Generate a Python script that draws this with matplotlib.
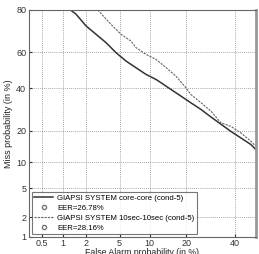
import math
import numpy as np
import matplotlib
matplotlib.use("Agg")
import matplotlib.pyplot as plt
from matplotlib.lines import Line2D

# Data (percent)
core_fa = [1.26, 1.50, 2.02, 2.69, 3.53, 4.57, 5.86, 7.40, 9.24, 11.4, 12.6, 15.3, 18.3,
           21.6, 25.4, 29.4, 38.1, 47.6, 50.0]
core_miss = [80.0, 78.3, 73.2, 69.2, 65.0, 59.7, 55.1, 51.4, 47.7, 44.9, 43.1, 39.4, 35.9,
             32.5, 29.2, 25.7, 19.7, 15.0, 13.4]
sec_fa = [2.82, 4.02, 4.57, 5.19, 6.59, 7.40, 9.24, 11.4, 13.9, 16.7, 19.9, 21.6, 25.4,
          29.4, 33.6, 38.1, 42.8, 47.6, 50.0]
sec_miss = [80.0, 73.9, 71.6, 69.2, 65.8, 62.4, 58.8, 56.0, 51.5, 46.8, 40.4, 36.8, 32.5,
            28.4, 23.2, 21.7, 19.1, 16.1, 14.4]
eer_core = 26.78
eer_sec = 28.16
xticks = [0.5, 1, 2, 5, 10, 20, 40]
yticks = [1, 2, 5, 10, 20, 40, 60, 80]


def _probit_scalar(p):
    p = min(max(p, 1e-9), 1 - 1e-9)
    lo, hi = -10.0, 10.0
    for _ in range(60):
        mid = 0.5 * (lo + hi)
        if 0.5 * (1 + math.erf(mid / math.sqrt(2))) < p:
            lo = mid
        else:
            hi = mid
    return 0.5 * (lo + hi)


def fwd(v):
    v = np.asarray(v, dtype=float)
    out = np.array([_probit_scalar(x / 100.0) for x in v.ravel()])
    return out.reshape(v.shape)


def inv(z):
    z = np.asarray(z, dtype=float)
    out = np.array([100 * 0.5 * (1 + math.erf(x / math.sqrt(2))) for x in z.ravel()])
    return out.reshape(z.shape)


plt.rcParams['font.family'] = ['Liberation Sans', 'DejaVu Sans']
fig = plt.figure(figsize=(2.59, 2.54), dpi=100)
ax = fig.add_axes([0.112, 0.067, 0.876, 0.894])
ax.set_xscale('function', functions=(fwd, inv))
ax.set_yscale('function', functions=(fwd, inv))

ax.plot(core_fa, core_miss, color='#333333', lw=1.1, ls='-')
ax.plot(sec_fa, sec_miss, color='#666666', lw=0.8, ls=(0, (2, 1)))

ax.set_xlim(0.31, 50)
ax.set_ylim(1, 80)
ax.set_xticks(xticks)
ax.set_xticklabels([str(t) for t in xticks])
ax.set_yticks(yticks)
ax.set_yticklabels([str(t) for t in yticks])
ax.minorticks_off()
ax.tick_params(labelsize=6.5, length=2, direction='in', colors='#333333', pad=2)
ax.tick_params(axis='x', pad=1.5)
ax.grid(True, color='#888888', ls=(0, (1, 1.5)), lw=0.6)
for s in ax.spines.values():
    s.set_color('#666666')
    s.set_linewidth(0.8)
ax.spines['right'].set_linewidth(2)
ax.spines['right'].set_color('#999999')

ax.set_xlabel('False Alarm probability (in %)', fontsize=6.3, labelpad=0, color='#222222')
ax.set_ylabel('Miss probability (in %)', fontsize=6.5, labelpad=2, color='#222222')

handles = [
    Line2D([], [], color='#333333', lw=1.1),
    Line2D([], [], ls='none', marker='o', mfc='white', mec='#777777', ms=3),
    Line2D([], [], color='#666666', lw=0.8, ls=(0, (2, 1))),
    Line2D([], [], ls='none', marker='o', mfc='white', mec='#777777', ms=3),
]
labels = ['GIAPSI SYSTEM core-core (cond-5)', 'EER=%.2f%%' % eer_core,
          'GIAPSI SYSTEM 10sec-10sec (cond-5)', 'EER=%.2f%%' % eer_sec]
leg = ax.legend(handles, labels, loc='lower left', fontsize=5.6, frameon=True,
                fancybox=False, edgecolor='#555555', handlelength=2.4,
                borderaxespad=0.4, labelspacing=0.3, borderpad=0.3,
                handletextpad=0.5)
leg.get_frame().set_linewidth(0.8)

fig.savefig('out.png', dpi=100)
